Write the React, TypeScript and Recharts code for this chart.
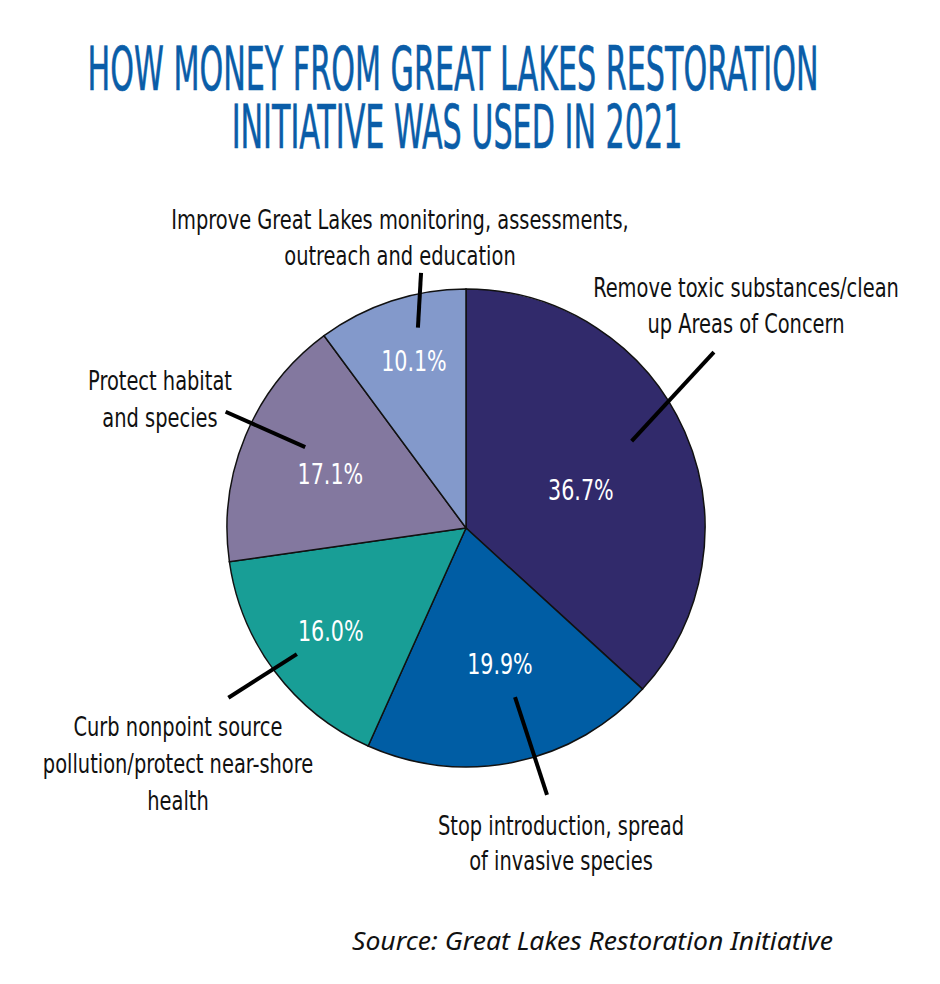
import React from 'react';
import { PieChart, Pie, Cell } from 'recharts';

const categories = [
  'Remove toxic substances/clean up Areas of Concern',
  'Stop introduction, spread of invasive species',
  'Curb nonpoint source pollution/protect near-shore health',
  'Protect habitat and species',
  'Improve Great Lakes monitoring, assessments, outreach and education',
];
const shares = [36.7, 19.9, 16.0, 17.1, 10.1];
const percentLabels = ['36.7%', '19.9%', '16.0%', '17.1%', '10.1%'];
const labelLines = [
  ['Remove toxic substances/clean', 'up Areas of Concern'],
  ['Stop introduction, spread', 'of invasive species'],
  ['Curb nonpoint source', 'pollution/protect near-shore', 'health'],
  ['Protect habitat', 'and species'],
  ['Improve Great Lakes monitoring, assessments,', 'outreach and education'],
];
const titleLines = ['HOW MONEY FROM GREAT LAKES RESTORATION', 'INITIATIVE WAS USED IN 2021'];
const sourceText = 'Source: Great Lakes Restoration Initiative';

const colors = ['#312A6B', '#005DA4', '#189E96', '#83789F', '#8399CB'];

const data = categories.map((name, i) => ({ name, value: shares[i] }));

// label layout: percent label polar offset, leader line polar offsets, text block offset
const layout = [
  { pct: [121, -5.5], lead: [187, 3.85, 304, 11.55], text: [280, -231], lh: 36 },
  { pct: [140, 2.3], lead: [176, 4.45, 279, 5.16], text: [95, 307], lh: 35 },
  { pct: [170, 0.33], lead: [211, -0.26, 292, -1.43], text: [-288, 208], lh: 37 },
  { pct: [146, 1.0], lead: [180, -3.99, 267, -3.08], text: [-306, -138], lh: 37 },
  { pct: [175, -0.92], lead: [206, -4.72, 259, -8.22], text: [-66, -299], lh: 36 },
];

const FONT = "'DejaVu Sans Condensed', 'Liberation Sans Narrow', sans-serif";
const SX = 0.8;
const RAD = Math.PI / 180;

const polar = (cx: number, cy: number, r: number, a: number) => ({
  x: cx + r * Math.cos(a * RAD),
  y: cy - r * Math.sin(a * RAD),
});

const squeeze = (x: number, s: number) => `translate(${x},0) scale(${s},1) translate(${-x},0)`;

const renderLabel = (props: any) => {
  const { cx, cy, midAngle, index } = props;
  const L = layout[index];
  const p = polar(cx, cy, L.pct[0], midAngle + L.pct[1]);
  const a = polar(cx, cy, L.lead[0], midAngle + L.lead[1]);
  const b = polar(cx, cy, L.lead[2], midAngle + L.lead[3]);
  const tx = cx + L.text[0];
  const ty = cy + L.text[1];
  return (
    <g key={`lbl-${index}`}>
      <text
        x={p.x}
        y={p.y}
        textAnchor="middle"
        dominantBaseline="central"
        fill="#ffffff"
        fontSize={28}
        fontFamily={FONT}
        transform={squeeze(p.x, 0.82)}
      >
        {percentLabels[index]}
      </text>
      <line x1={a.x} y1={a.y} x2={b.x} y2={b.y} stroke="#000" strokeWidth={4} />
      <text textAnchor="middle" fill="#111" fontSize={27} fontFamily={FONT} transform={squeeze(tx, SX)}>
        {labelLines[index].map((s, j) => (
          <tspan key={j} x={tx} y={ty + j * L.lh}>
            {s}
          </tspan>
        ))}
      </text>
    </g>
  );
};

export default function App() {
  return (
    <div style={{ position: 'absolute', left: 0, top: 0, width: 940, height: 984, background: '#fff' }}>
      <PieChart
        width={940}
        height={984}
        margin={{ top: 0, right: 0, bottom: 0, left: 0 }}
        style={{ position: 'absolute', left: 0, top: 0 }}
      >
        <Pie
          data={data}
          dataKey="value"
          nameKey="name"
          cx={466}
          cy={528}
          outerRadius={239}
          startAngle={90}
          endAngle={-270}
          stroke="#111"
          strokeWidth={1.5}
          label={renderLabel}
          labelLine={false}
          isAnimationActive={false}
        >
          {data.map((d, i) => (
            <Cell key={d.name} fill={colors[i]} stroke="#111" strokeWidth={1.5} />
          ))}
        </Pie>
      </PieChart>
      <svg width={940} height={984} style={{ position: 'absolute', left: 0, top: 0, pointerEvents: 'none' }}>
        <text
          x={453}
          y={90}
          fontSize={61}
          fontFamily={FONT}
          fill="#0A5DA8"
          stroke="#0A5DA8"
          strokeWidth={0.6}
          textAnchor="middle"
          transform={squeeze(453, 0.55)}
        >
          {titleLines[0]}
        </text>
        <text
          x={457}
          y={148}
          fontSize={61}
          fontFamily={FONT}
          fill="#0A5DA8"
          stroke="#0A5DA8"
          strokeWidth={0.6}
          textAnchor="middle"
          transform={squeeze(457, 0.55)}
        >
          {titleLines[1]}
        </text>
        <text
          x={352}
          y={950}
          fontSize={25}
          fontStyle="italic"
          fontFamily="'Noto Sans', 'Open Sans', sans-serif"
          fill="#111"
          textLength={481}
          lengthAdjust="spacingAndGlyphs"
        >
          {sourceText}
        </text>
      </svg>
    </div>
  );
}
